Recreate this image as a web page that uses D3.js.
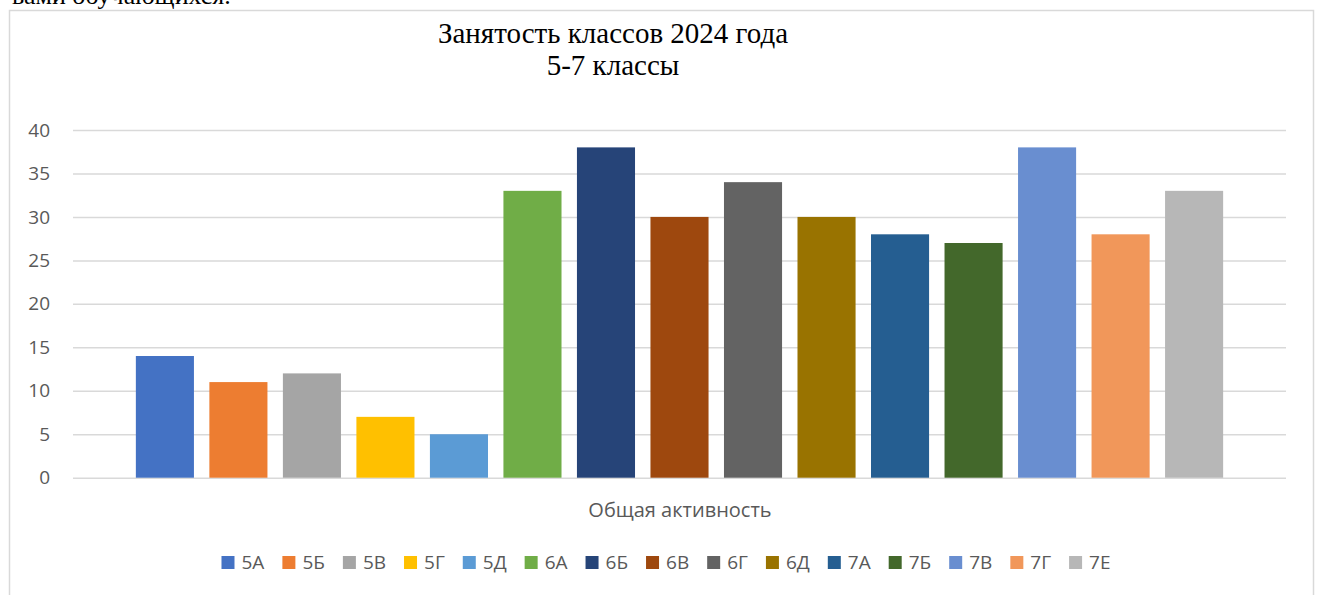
<!DOCTYPE html>
<html>
<head>
<meta charset="utf-8">
<script src="https://cdn.jsdelivr.net/npm/d3@7"></script>
<style>
  body { margin: 0; background: #fff; }
  svg { display: block; }
  .serif { font-family: 'Liberation Serif', 'Times New Roman', 'DejaVu Serif', serif; }
</style>
</head>
<body>
<div id="chart"></div>
<script>
let classes = ['5А', '5Б', '5В', '5Г', '5Д', '6А', '6Б', '6В', '6Г', '6Д', '7А', '7Б', '7В', '7Г', '7Е'];
let counts = [14, 11, 12, 7, 5, 33, 38, 30, 34, 30, 28, 27, 38, 28, 33];
let colors = ['#4472C4', '#ED7D31', '#A5A5A5', '#FFC000', '#5B9BD5', '#70AD47', '#264478', '#9E480E',
  '#636363', '#997300', '#255E91', '#43682B', '#698ED0', '#F1975A', '#B7B7B7'];
let yTicks = [0, 5, 10, 15, 20, 25, 30, 35, 40];
let titleLines = ['Занятость классов 2024 года', '5-7 классы'];
let categoryLabel = 'Общая активность';
let textAbove = 'вами обучающихся.';

let width = 1319, height = 595;
let plot = { left: 73, right: 1286, top: 130, bottom: 477.7 };
let sansFont = '"Open Sans", "Noto Sans", sans-serif';
let textColor = '#595959';

let data = classes.map((c, i) => ({ name: c, value: counts[i], color: colors[i] }));

const svg = d3.select('#chart')
  .append('svg')
  .attr('width', width)
  .attr('height', height);

// document text cut off above the chart
svg.append('text')
  .attr('class', 'serif')
  .attr('x', 12)
  .attr('y', 4)
  .style('font-size', '26px')
  .attr('fill', '#000')
  .text(textAbove);

// chart frame
svg.append('rect')
  .attr('x', 9.5)
  .attr('y', 10.5)
  .attr('width', 1304)
  .attr('height', 600)
  .attr('fill', '#fff')
  .attr('stroke', '#d9d9d9')
  .attr('stroke-width', 1.5);

// scales
let y = d3.scaleLinear()
  .domain([0, 40])
  .range([plot.bottom, plot.top]);

let x = d3.scaleBand()
  .domain(classes)
  .range([plot.left, plot.right])
  .paddingInner(0.21)
  .paddingOuter(0.855);

// grid lines
svg.append('g')
  .attr('class', 'grid')
  .attr('transform', `translate(${plot.left},0)`)
  .call(d3.axisLeft(y).tickValues(yTicks).tickSize(-(plot.right - plot.left)).tickFormat(''))
  .call((g) => g.select('.domain').remove())
  .call((g) => g.selectAll('line').attr('stroke', '#d9d9d9').attr('stroke-width', 1.5));

// y axis labels
svg.append('g')
  .attr('class', 'y-axis')
  .attr('transform', `translate(${plot.left},0)`)
  .call(d3.axisLeft(y).tickValues(yTicks).tickSize(0).tickPadding(23))
  .call((g) => g.select('.domain').remove())
  .call((g) => g.selectAll('text')
    .attr('fill', textColor)
    .style('font-family', sansFont)
    .style('font-size', '19px'));

// bars
svg.append('g')
  .attr('class', 'bars')
  .selectAll('rect')
  .data(data)
  .join('rect')
  .attr('x', (d) => x(d.name))
  .attr('y', (d) => y(d.value))
  .attr('width', x.bandwidth())
  .attr('height', (d) => y(0) - y(d.value))
  .attr('fill', (d) => d.color);

// title
svg.append('text')
  .attr('class', 'serif')
  .attr('text-anchor', 'middle')
  .style('font-size', '29px')
  .attr('fill', '#000')
  .selectAll('tspan')
  .data(titleLines)
  .join('tspan')
  .attr('x', 613)
  .attr('y', (d, i) => 43 + i * 32)
  .text((d) => d);

// category label
svg.append('text')
  .attr('x', 680)
  .attr('y', 517)
  .attr('text-anchor', 'middle')
  .attr('fill', textColor)
  .style('font-family', sansFont)
  .style('font-size', '20px')
  .text(categoryLabel);

// legend
const legend = svg.append('g').attr('class', 'legend');
let items = legend.selectAll('g')
  .data(data)
  .join('g');
items.append('rect')
  .attr('width', 13)
  .attr('height', 13)
  .attr('y', 556)
  .attr('fill', (d) => d.color);
items.append('text')
  .attr('x', 20)
  .attr('y', 569)
  .attr('fill', textColor)
  .style('font-family', sansFont)
  .style('font-size', '19px')
  .text((d) => d.name);

let widths = [];
items.each(function () {
  widths.push(d3.select(this).select('text').node().getComputedTextLength());
});
let gapBetween = 18;
let total = d3.sum(widths, (w) => 20 + w) + gapBetween * (widths.length - 1);
let pos = 666 - total / 2;
items.attr('transform', (d, i) => {
  let t = `translate(${pos},0)`;
  pos += 20 + widths[i] + gapBetween;
  return t;
});
</script>
</body>
</html>
